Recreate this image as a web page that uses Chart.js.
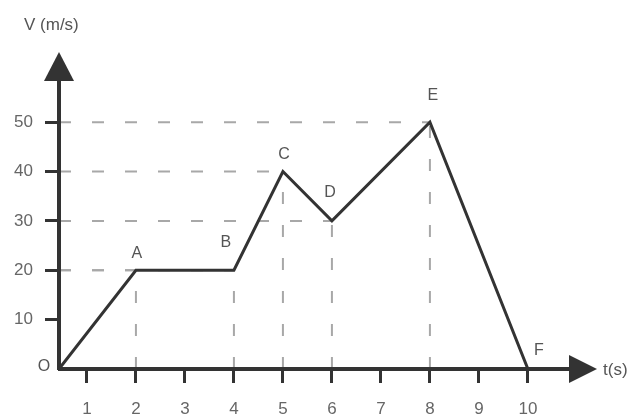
<!DOCTYPE html>
<html>
<head>
<meta charset="utf-8">
<script src="https://cdn.jsdelivr.net/npm/chart.js@4"></script>
<style>
  html, body { margin: 0; padding: 0; background: #fff; }
  #wrap { width: 636px; height: 416px; }
</style>
</head>
<body>
<div id="wrap"><canvas id="chart"></canvas></div>
<script>
// velocity-time graph, corner points O..F
const pointNames = ["O", "A", "B", "C", "D", "E", "F"];
const tValues = [0, 2, 4, 5, 6, 8, 10];
const vValues = [0, 20, 20, 40, 30, 50, 0];
const tTicks = [1, 2, 3, 4, 5, 6, 7, 8, 9, 10];
const vTicks = [10, 20, 30, 40, 50];
// points that get dashed guide lines back to both axes
const guidePoints = ["A", "B", "C", "D", "E"];

// where each point name sits relative to its point (px)
const nameOffsets = [[-15, -2], [1, -17], [-8, -28], [1, -17], [-2, -28], [3, -27], [11, -18]];

const INK = "#333";
const TEXT = "#666";
const FONT = "Liberation Sans, Arial, sans-serif";

// linear axis where the first unit is drawn shorter than the rest
class KinkedScale extends Chart.LinearScale {
  static id = "kinked";
  static defaults = Chart.LinearScale.defaults;
  warp(v) {
    const k = this.options.firstUnit;
    return v <= 1 ? v * k : v - 1 + k;
  }
  getPixelForValue(value) {
    if (value === null || isNaN(value)) return NaN;
    const a = this.warp(this.min), b = this.warp(this.max);
    return this.getPixelForDecimal((this.warp(value) - a) / (b - a));
  }
  getValueForPixel(pixel) {
    const k = this.options.firstUnit;
    const a = this.warp(this.min), b = this.warp(this.max);
    const u = a + this.getDecimalForPixel(pixel) * (b - a);
    return u <= k ? u / k : u + 1 - k;
  }
}
Chart.register(KinkedScale);

const guides = {
  id: "guides",
  beforeDatasetsDraw(chart) {
    const { ctx, chartArea, scales: { x, y } } = chart;
    ctx.save();
    ctx.strokeStyle = "#a8a8a8";
    ctx.lineWidth = 2;
    ctx.setLineDash([12, 21]);
    guidePoints.forEach((name) => {
      const i = pointNames.indexOf(name);
      const px = x.getPixelForValue(tValues[i]);
      const py = y.getPixelForValue(vValues[i]);
      ctx.beginPath();
      ctx.moveTo(chartArea.left, py);
      ctx.lineTo(px, py);
      ctx.moveTo(px, chartArea.bottom);
      ctx.lineTo(px, py);
      ctx.stroke();
    });
    ctx.restore();
  },
};

const axesAndNames = {
  id: "axesAndNames",
  afterDatasetsDraw(chart) {
    const { ctx, chartArea, scales: { x, y } } = chart;
    const ox = x.getPixelForValue(0);
    const oy = y.getPixelForValue(0);
    ctx.save();
    ctx.strokeStyle = INK;
    ctx.fillStyle = INK;
    ctx.lineWidth = 4;
    ctx.beginPath();
    ctx.moveTo(ox, oy + 1);
    ctx.lineTo(ox, chartArea.top + 26);
    ctx.moveTo(ox - 1, oy);
    ctx.lineTo(chartArea.right - 26, oy);
    ctx.stroke();

    // arrow heads
    ctx.beginPath();
    ctx.moveTo(ox, chartArea.top - 1);
    ctx.lineTo(ox + 15, chartArea.top + 28);
    ctx.lineTo(ox - 15, chartArea.top + 28);
    ctx.closePath();
    ctx.fill();
    ctx.beginPath();
    ctx.moveTo(chartArea.right, oy);
    ctx.lineTo(chartArea.right - 28, oy - 14);
    ctx.lineTo(chartArea.right - 28, oy + 14);
    ctx.closePath();
    ctx.fill();

    ctx.fillStyle = "#555";
    ctx.font = "16px " + FONT;
    ctx.textAlign = "center";
    ctx.textBaseline = "middle";
    pointNames.forEach((name, i) => {
      const px = x.getPixelForValue(tValues[i]);
      const py = y.getPixelForValue(vValues[i]);
      ctx.fillText(name, px + nameOffsets[i][0], py + nameOffsets[i][1]);
    });

    ctx.font = "17px " + FONT;
    ctx.textAlign = "left";
    ctx.fillText("V (m/s)", 24, 25);
    ctx.fillText("t(s)", chartArea.right + 6, oy + 1);
    ctx.restore();
  },
};

new Chart(document.getElementById("chart"), {
  type: "line",
  data: {
    datasets: [
      {
        data: tValues.map((t, i) => ({ x: t, y: vValues[i] })),
        borderColor: INK,
        borderWidth: 3,
        pointRadius: 0,
        tension: 0,
      },
    ],
  },
  options: {
    responsive: true,
    maintainAspectRatio: false,
    animation: false,
    layout: { padding: { top: 53, right: 39, left: 0, bottom: 0 } },
    plugins: { legend: { display: false }, tooltip: { enabled: false } },
    scales: {
      x: {
        type: "kinked",
        firstUnit: 0.57,
        min: 0,
        max: 11.41,
        afterBuildTicks: (s) => { s.ticks = tTicks.map((v) => ({ value: v })); },
        afterFit: (s) => { s.height = 47; },
        border: { display: false },
        grid: { drawOnChartArea: false, drawTicks: true, tickLength: 14, color: INK, lineWidth: 3 },
        ticks: { padding: 16, color: TEXT, font: { size: 17, family: FONT } },
      },
      y: {
        min: 0,
        max: 64,
        afterBuildTicks: (s) => { s.ticks = vTicks.map((v) => ({ value: v })); },
        afterFit: (s) => { s.width = 59; },
        border: { display: false },
        grid: { drawOnChartArea: false, drawTicks: true, tickLength: 14, color: INK, lineWidth: 3 },
        ticks: { padding: 12, color: TEXT, font: { size: 17, family: FONT } },
      },
    },
  },
  plugins: [guides, axesAndNames],
});
</script>
</body>
</html>
